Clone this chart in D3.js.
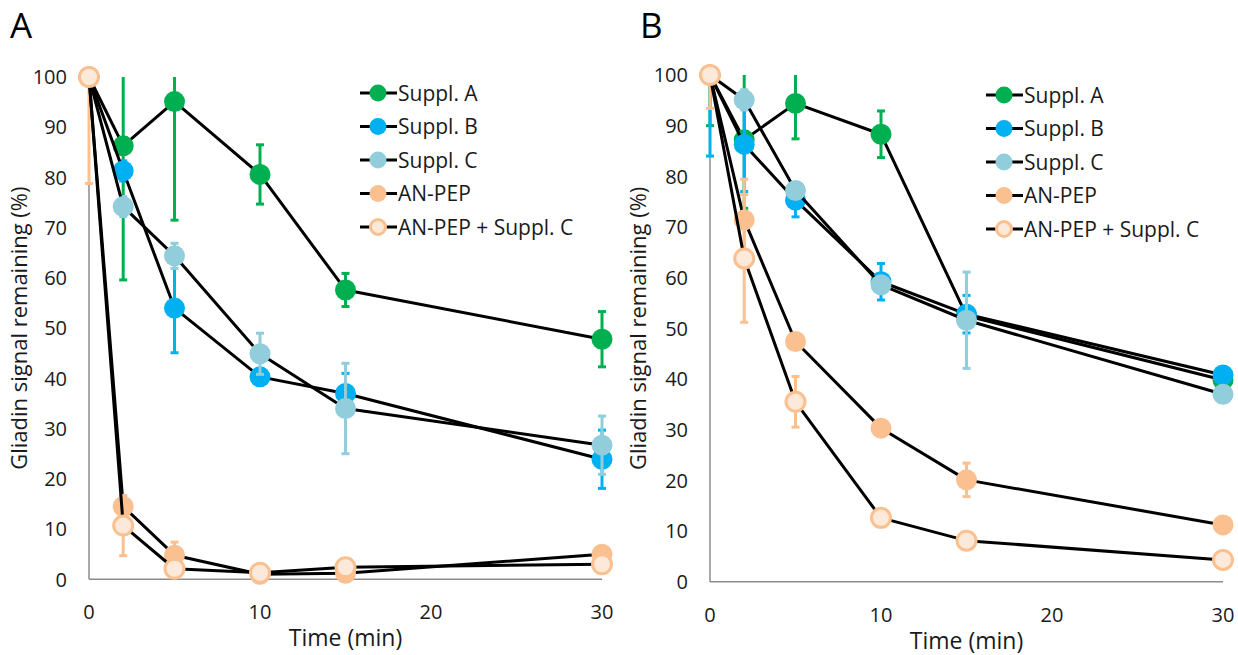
<!DOCTYPE html>
<html>
<head>
<meta charset="utf-8">
<script src="https://cdn.jsdelivr.net/npm/d3@7"></script>
<style>
  body { margin: 0; background: #fff; }
  svg { font-family: "Open Sans", sans-serif; }
</style>
</head>
<body>
<svg id="chart" width="1238" height="655"></svg>
<script>
// time points (min)
var times = [0, 2, 5, 10, 15, 30];
var xTicks = [0, 10, 20, 30];
var yTicks = [0, 10, 20, 30, 40, 50, 60, 70, 80, 90, 100];
var seriesNames = ['Suppl. A', 'Suppl. B', 'Suppl. C', 'AN-PEP', 'AN-PEP + Suppl. C'];

// panel A values (% remaining) and error bar sizes
var aSupplA = [100, 86.3, 95.1, 80.6, 57.6, 47.8];
var aSupplB = [100, 81.3, 54.0, 40.3, 37.0, 23.9];
var aSupplC = [100, 74.2, 64.4, 44.9, 34.0, 26.7];
var aPep = [100, 14.5, 4.8, 1.0, 1.2, 5.0];
var aPepC = [100, 10.7, 2.1, 1.3, 2.4, 3.0];
var aSupplAErr = [0, 26.7, 23.6, 5.9, 3.3, 5.5];
var aSupplBErr = [0, 2.0, 8.9, 1.0, 4.0, 5.8];
var aSupplCErr = [0, 2.0, 2.5, 4.1, 9.0, 5.8];
var aPepErr = [21.2, 2.1, 2.6, 0, 0, 0];
var aPepCErr = [0, 6.0, 0, 0, 0, 0];

// panel B
var bSupplA = [100, 87.2, 94.4, 88.3, 52.5, 39.8];
var bSupplB = [100, 86.3, 75.3, 59.2, 52.8, 40.8];
var bSupplC = [100, 95.1, 77.2, 58.6, 51.6, 37.0];
var bPep = [100, 71.4, 47.4, 30.3, 20.1, 11.2];
var bPepC = [100, 63.8, 35.5, 12.6, 8.1, 4.3];
var bSupplAErr = [10, 13.5, 7.0, 4.6, 1.5, 1.0];
var bSupplBErr = [16, 9.3, 3.3, 3.6, 3.7, 1.0];
var bSupplCErr = [0, 2.0, 1.5, 1.5, 9.5, 1.0];
var bPepErr = [6.6, 8.0, 1.5, 1.0, 3.3, 1.0];
var bPepCErr = [0, 12.6, 5.0, 1.0, 1.0, 1.0];

var styles = [
  {fill: '#00B050', stroke: '#00B050', bar: '#00B050'},
  {fill: '#00B0F0', stroke: '#00B0F0', bar: '#00B0F0'},
  {fill: '#92CDDC', stroke: '#92CDDC', bar: '#92CDDC'},
  {fill: '#FAC090', stroke: '#FAC090', bar: '#FAC090'},
  {fill: '#FDE9D9', stroke: '#FAC090', bar: '#FAC090', open: true}
];

const svg = d3.select('#chart');

function drawPanel(opt) {
  const x = d3.scaleLinear().domain([0, 30]).range([opt.left, opt.right]);
  const y = d3.scaleLinear().domain([0, 100]).range([opt.bottom, opt.top]);
  const g = svg.append('g');

  // panel letter
  g.append('text').attr('x', opt.letterX).attr('y', 38)
    .attr('font-size', 35).attr('fill', '#000').text(opt.letter);

  // axes (no tick marks)
  g.append('line').attr('x1', x(0)).attr('x2', x(0)).attr('y1', y(0)).attr('y2', y(100))
    .attr('stroke', '#8c8c8c').attr('stroke-width', 1.5);
  g.append('line').attr('x1', x(0)).attr('x2', x(30)).attr('y1', y(0)).attr('y2', y(0))
    .attr('stroke', '#8c8c8c').attr('stroke-width', 1.5);

  g.selectAll('text.ytick').data(yTicks).enter().append('text')
    .attr('class', 'ytick')
    .attr('x', x(0) - 22).attr('y', d => y(d)).attr('dy', '0.36em')
    .attr('text-anchor', 'end').attr('font-size', 20).attr('fill', '#1a1a1a')
    .text(d => d);
  g.selectAll('text.xtick').data(xTicks).enter().append('text')
    .attr('class', 'xtick')
    .attr('x', d => x(d)).attr('y', y(0) + 40)
    .attr('text-anchor', 'middle').attr('font-size', 20).attr('fill', '#1a1a1a')
    .text(d => d);

  g.append('text').attr('x', (opt.left + opt.right) / 2).attr('y', y(0) + 67)
    .attr('text-anchor', 'middle').attr('font-size', 23).attr('fill', '#1a1a1a')
    .text('Time (min)');
  g.append('text')
    .attr('transform', 'translate(' + opt.yTitleX + ',' + ((opt.top + opt.bottom) / 2) + ') rotate(-90)')
    .attr('text-anchor', 'middle').attr('dy', '0.36em').attr('font-size', 22).attr('fill', '#1a1a1a')
    .text('Gliadin signal remaining (%)');

  const line = d3.line().x(d => x(d.t)).y(d => y(d.v));

  opt.series.forEach(function(vals, si) {
    const st = styles[si];
    const pts = vals.map((v, i) => ({t: times[i], v: v, e: opt.errors[si][i]}));
    const sg = g.append('g');

    // error bars, clipped to the 0-100 axis range
    pts.filter(p => p.e > 0).forEach(function(p) {
      const hi = Math.min(100, p.v + p.e), lo = Math.max(0, p.v - p.e);
      sg.append('line').attr('x1', x(p.t)).attr('x2', x(p.t)).attr('y1', y(lo)).attr('y2', y(hi))
        .attr('stroke', st.bar).attr('stroke-width', 3);
      if (p.v + p.e <= 100) {
        sg.append('line').attr('x1', x(p.t) - 4).attr('x2', x(p.t) + 4).attr('y1', y(hi)).attr('y2', y(hi))
          .attr('stroke', st.bar).attr('stroke-width', 3);
      }
      if (p.v - p.e >= 0) {
        sg.append('line').attr('x1', x(p.t) - 4).attr('x2', x(p.t) + 4).attr('y1', y(lo)).attr('y2', y(lo))
          .attr('stroke', st.bar).attr('stroke-width', 3);
      }
    });

    sg.append('path').datum(pts).attr('d', line)
      .attr('fill', 'none').attr('stroke', '#000').attr('stroke-width', 3)
      .attr('stroke-linejoin', 'round');

    sg.selectAll('circle').data(pts).enter().append('circle')
      .attr('cx', d => x(d.t)).attr('cy', d => y(d.v))
      .attr('r', st.open ? 9.5 : 10.5)
      .attr('fill', st.fill).attr('stroke', st.stroke).attr('stroke-width', st.open ? 3 : 0);
  });

  // legend
  const lg = g.append('g');
  seriesNames.forEach(function(name, i) {
    const st = styles[i];
    const ly = opt.legendY + i * 33.5;
    lg.append('line').attr('x1', opt.legendX).attr('x2', opt.legendX + 37).attr('y1', ly).attr('y2', ly)
      .attr('stroke', '#000').attr('stroke-width', 3);
    lg.append('circle').attr('cx', opt.legendX + 18).attr('cy', ly)
      .attr('r', st.open ? 7.5 : 8.5)
      .attr('fill', st.fill).attr('stroke', st.stroke).attr('stroke-width', st.open ? 3 : 0);
    lg.append('text').attr('x', opt.legendX + 38).attr('y', ly).attr('dy', '0.36em')
      .attr('font-size', 21).attr('fill', '#1a1a1a').text(name);
  });
}

drawPanel({
  letter: 'A', letterX: 10, left: 89, right: 602, top: 77, bottom: 579.3,
  yTitleX: 19, legendX: 360, legendY: 93,
  series: [aSupplA, aSupplB, aSupplC, aPep, aPepC],
  errors: [aSupplAErr, aSupplBErr, aSupplCErr, aPepErr, aPepCErr]
});
drawPanel({
  letter: 'B', letterX: 640, left: 710, right: 1223, top: 75, bottom: 581.7,
  yTitleX: 638, legendX: 986, legendY: 95,
  series: [bSupplA, bSupplB, bSupplC, bPep, bPepC],
  errors: [bSupplAErr, bSupplBErr, bSupplCErr, bPepErr, bPepCErr]
});
</script>
</body>
</html>
